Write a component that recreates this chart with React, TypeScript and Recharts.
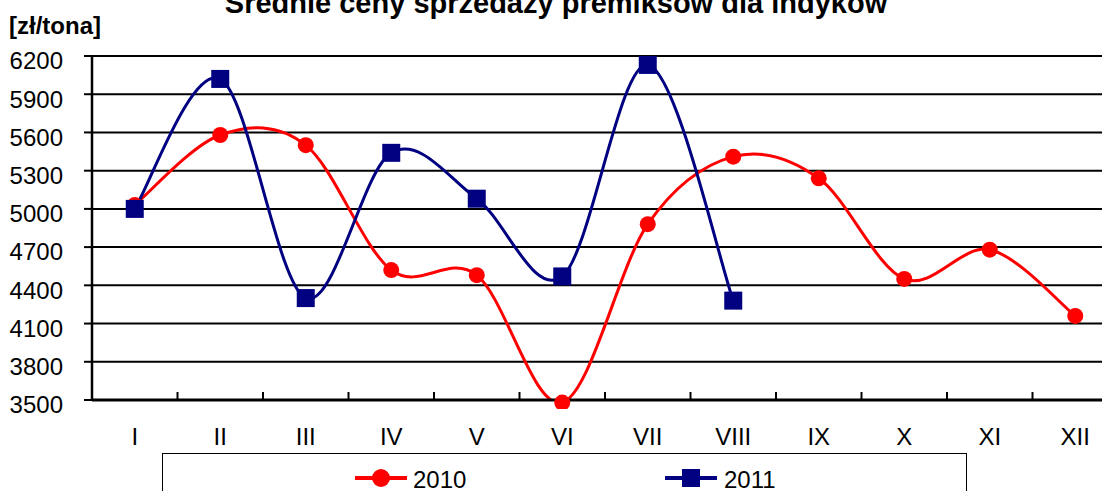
import { LineChart, Line, XAxis, YAxis, CartesianGrid, Legend } from "recharts";

// months as roman numerals
const MONTHS = ["I", "II", "III", "IV", "V", "VI", "VII", "VIII", "IX", "X", "XI", "XII"];
const PRICES_2010 = [5030, 5580, 5500, 4520, 4480, 3480, 4880, 5410, 5240, 4450, 4680, 4160];
const PRICES_2011 = [5000, 6020, 4300, 5440, 5080, 4470, 6130, 4280, null, null, null, null];
const Y_TICKS = [3500, 3800, 4100, 4400, 4700, 5000, 5300, 5600, 5900, 6200];

const TITLE = "Średnie ceny sprzedaży premiksów dla indyków";
const UNIT = "[zł/tona]";

const RED = "#FF0000";
const NAVY = "#000080";
const FONT = "'Liberation Sans', Arial, sans-serif";

const CHART_W = 1130;
const CHART_H = 491;
const MARGIN = { top: 56, right: 12, left: 0, bottom: 0 };
const Y_AXIS_W = 92;
const BAND = (CHART_W - MARGIN.left - MARGIN.right - Y_AXIS_W) / MONTHS.length;

const data = MONTHS.map((m, i) => ({
  month: m,
  y2010: PRICES_2010[i],
  y2011: PRICES_2011[i],
}));

// Excel-style smoothed line (Catmull-Rom through the points)
const excelSmooth = (context: any) => {
  let pts: number[][] = [];
  return {
    areaStart() {},
    areaEnd() {},
    lineStart() {
      pts = [];
    },
    lineEnd() {
      const n = pts.length;
      if (n === 0) return;
      context.moveTo(pts[0][0], pts[0][1]);
      for (let i = 0; i < n - 1; i++) {
        const p0 = pts[Math.max(i - 1, 0)];
        const p1 = pts[i];
        const p2 = pts[i + 1];
        const p3 = pts[Math.min(i + 2, n - 1)];
        context.bezierCurveTo(
          p1[0] + (p2[0] - p0[0]) / 6,
          p1[1] + (p2[1] - p0[1]) / 6,
          p2[0] - (p3[0] - p1[0]) / 6,
          p2[1] - (p3[1] - p1[1]) / 6,
          p2[0],
          p2[1]
        );
      }
    },
    point(x: number, y: number) {
      pts.push([+x, +y]);
    },
  };
};

function MonthTick({ x, y, payload }: any) {
  return (
    <g>
      <text x={x} y={y} dy={45} textAnchor="middle" fill="#000" fontSize={24} fontFamily={FONT}>
        {payload.value}
      </text>
      <line x1={x + BAND / 2} x2={x + BAND / 2} y1={y} y2={y - 8} stroke="#000" strokeWidth={2} />
    </g>
  );
}

function PriceTick({ x, y, payload }: any) {
  return (
    <text x={x} y={y} dy={13.3} textAnchor="end" fill="#000" fontSize={24} fontFamily={FONT}>
      {payload.value}
    </text>
  );
}

function SquareDot({ cx, cy, index }: any) {
  if (cx == null || cy == null) return null;
  return <rect key={index} x={cx - 9} y={cy - 9} width={18} height={18} fill={NAVY} />;
}

function LegendBox() {
  return (
    <div
      style={{
        width: 805,
        height: 60,
        border: "1.5px solid #000",
        boxSizing: "border-box",
        background: "#fff",
      }}
    >
      <svg width={805} height={60} style={{ position: "absolute", left: 0, top: 0 }}>
        <line x1={193} x2={245} y1={25} y2={25} stroke={RED} strokeWidth={4} />
        <circle cx={219} cy={25} r={9} fill={RED} />
        <text x={251} y={35} fontSize={24} fontFamily={FONT} fill="#000">
          2010
        </text>
        <line x1={503} x2={555} y1={25} y2={25} stroke={NAVY} strokeWidth={4} />
        <rect x={520} y={16} width={18} height={18} fill={NAVY} />
        <text x={562} y={35} fontSize={24} fontFamily={FONT} fill="#000">
          2011
        </text>
      </svg>
    </div>
  );
}

export default function App() {
  return (
    <div
      style={{
        position: "fixed",
        left: 0,
        top: 0,
        width: 1102,
        height: 491,
        overflow: "hidden",
        background: "#fff",
        fontFamily: FONT,
      }}
    >
      <LineChart width={CHART_W} height={CHART_H} data={data} margin={MARGIN}>
        <CartesianGrid horizontal vertical={false} stroke="#000" strokeWidth={2} />
        <XAxis
          dataKey="month"
          height={91}
          padding={{ left: BAND / 2, right: BAND / 2 }}
          tick={<MonthTick />}
          tickLine={false}
          tickSize={0}
          tickMargin={0}
          axisLine={{ stroke: "#000", strokeWidth: 3 }}
          interval={0}
        />
        <YAxis
          width={Y_AXIS_W}
          domain={[3500, 6200]}
          ticks={Y_TICKS}
          allowDataOverflow
          tick={<PriceTick />}
          tickSize={8}
          tickMargin={21}
          tickLine={{ stroke: "#000", strokeWidth: 2 }}
          axisLine={{ stroke: "#000", strokeWidth: 2.5 }}
          interval={0}
        />
        <Legend
          layout="horizontal"
          verticalAlign="middle"
          align="center"
          content={<LegendBox />}
          wrapperStyle={{ left: 162, top: 453, width: 805, height: 60 }}
        />
        <Line
          dataKey="y2010"
          name="2010"
          type={excelSmooth as any}
          stroke={RED}
          strokeWidth={3}
          dot={{ r: 8, fill: RED, stroke: "none", clipDot: false } as any}
          activeDot={false}
          isAnimationActive={false}
        />
        <Line
          dataKey="y2011"
          name="2011"
          type={excelSmooth as any}
          stroke={NAVY}
          strokeWidth={3}
          dot={<SquareDot />}
          activeDot={false}
          isAnimationActive={false}
        />
      </LineChart>
      <svg width={1102} height={60} style={{ position: "absolute", left: 0, top: 0, pointerEvents: "none" }}>
        <text x={556} y={12.5} textAnchor="middle" fontSize={29} fontWeight="bold" fontFamily={FONT} fill="#000">
          {TITLE}
        </text>
        <text x={9} y={33.5} fontSize={24} fontWeight="bold" fontFamily={FONT} fill="#000">
          {UNIT}
        </text>
      </svg>
    </div>
  );
}
